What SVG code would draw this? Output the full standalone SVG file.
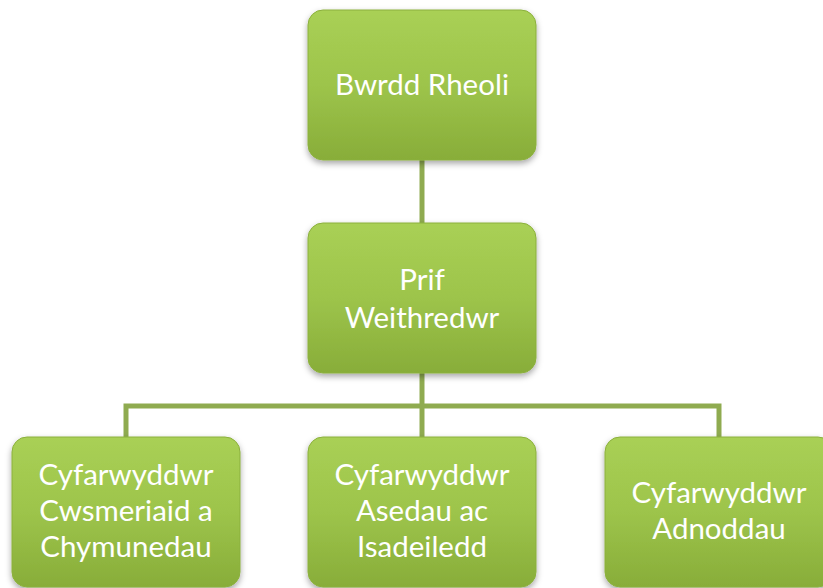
<svg xmlns="http://www.w3.org/2000/svg" width="823" height="588" viewBox="0 0 823 588">
<style>
.box{fill:url(#g);stroke:#8bb03c;stroke-width:1;filter:url(#sh)}
.t{font-family:Lato,"Open Sans","Liberation Sans",sans-serif;font-size:29.5px;fill:#ffffff;text-anchor:middle}
.c{fill:none;stroke:#8fab50;stroke-width:5}
</style>
<defs>
<linearGradient id="g" x1="0" y1="0" x2="0" y2="1">
<stop offset="0" stop-color="#a9d055"/>
<stop offset="0.5" stop-color="#9dc44b"/>
<stop offset="1" stop-color="#88ad39"/>
</linearGradient>
<filter id="sh" x="-10%" y="-10%" width="120%" height="130%">
<feDropShadow dx="0" dy="3" stdDeviation="3" flood-color="#000" flood-opacity="0.35"/>
</filter>
</defs>
<g id="connectors">
<path class="c" d="M422,160 V223"/>
<path class="c" d="M422,373 V437"/>
<path class="c" d="M126,437 V406 H719 V437"/>
</g>
<g id="n1">
<rect class="box" x="308" y="10" width="228" height="150" rx="15"/>
<text class="t" x="422" y="95">Bwrdd Rheoli</text>
</g>
<g id="n2">
<rect class="box" x="308" y="223" width="228" height="150" rx="15"/>
<text class="t" x="422" y="290">Prif</text>
<text class="t" x="422" y="328">Weithredwr</text>
</g>
<g id="n3">
<rect class="box" x="12" y="437" width="228" height="150" rx="15"/>
<text class="t" x="126" y="485">Cyfarwyddwr</text>
<text class="t" x="126" y="521">Cwsmeriaid a</text>
<text class="t" x="126" y="557">Chymunedau</text>
</g>
<g id="n4">
<rect class="box" x="308" y="437" width="228" height="150" rx="15"/>
<text class="t" x="422" y="485">Cyfarwyddwr</text>
<text class="t" x="422" y="521">Asedau ac</text>
<text class="t" x="422" y="557">Isadeiledd</text>
</g>
<g id="n5">
<rect class="box" x="605" y="437" width="228" height="150" rx="15"/>
<text class="t" x="719" y="503">Cyfarwyddwr</text>
<text class="t" x="719" y="539">Adnoddau</text>
</g>
</svg>
